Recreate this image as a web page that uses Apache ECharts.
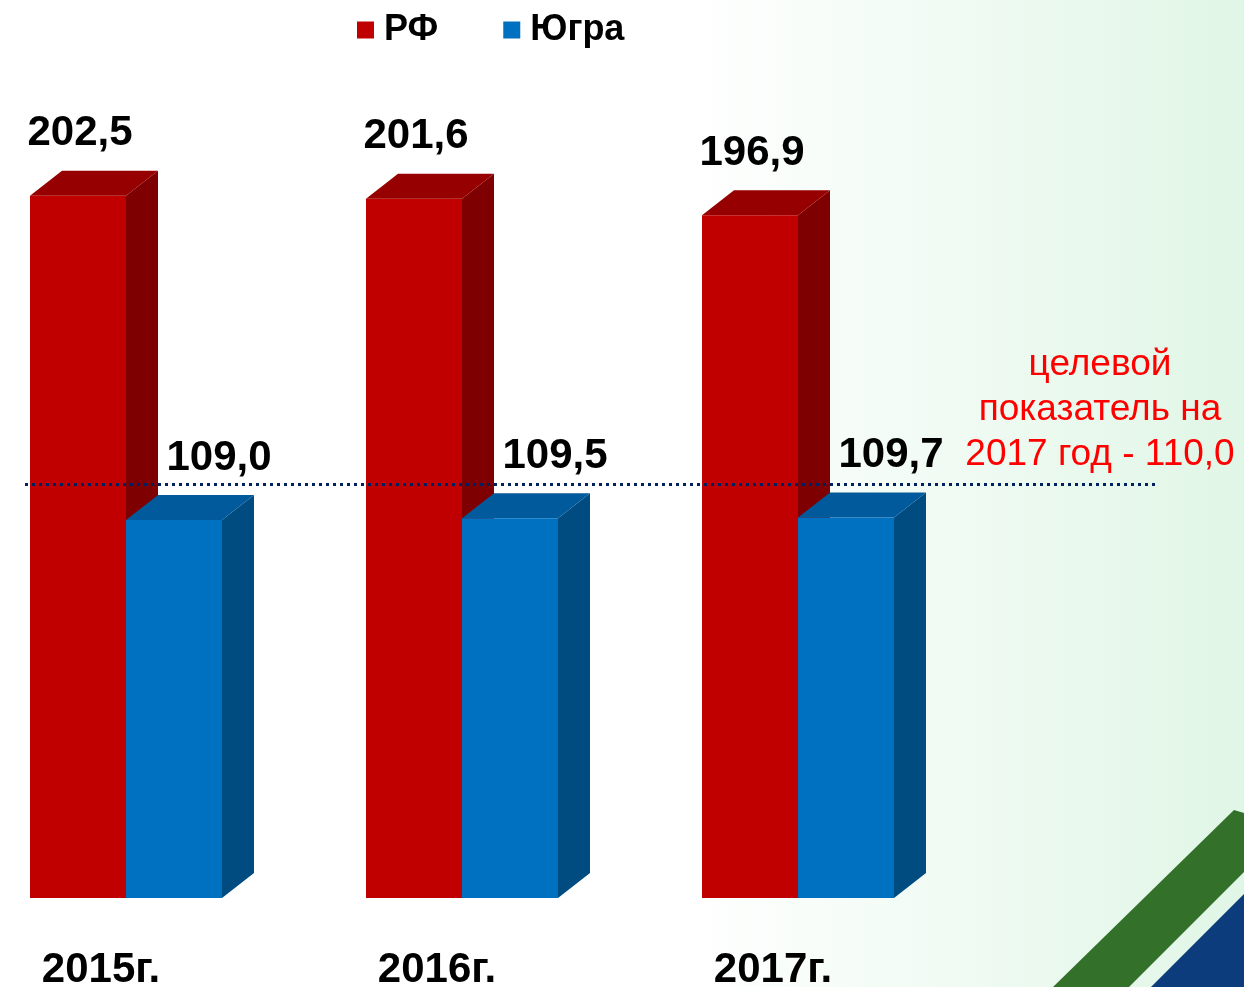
<!DOCTYPE html>
<html>
<head>
<meta charset="utf-8">
<script src="https://cdn.jsdelivr.net/npm/echarts@6/dist/echarts.min.js"></script>
<style>
  html, body { margin: 0; padding: 0; }
  #chart { width: 1244px; height: 987px; }
</style>
</head>
<body>
<div id="chart"></div>
<script>
const years = ['2015г.', '2016г.', '2017г.'];
const rfValues = [202.5, 201.6, 196.9];
const yugraValues = [109.0, 109.5, 109.7];
const targetValue = 110.0;
const targetText = ['целевой', 'показатель на', '2017 год - 110,0'];

const FONT = '"Liberation Sans", Arial, sans-serif';
const BAR_W = 96;
const DX = 32;
const DY = -25;

const fmt = v => v.toFixed(1).replace('.', ',');

// 3d bar: front face, top face, side face + value label
function bar3d(onLeft, colors, labelShift) {
  return function (params, api) {
    const idx = api.value(0);
    const v = api.value(1);
    const top = api.coord([idx, v]);
    const base = api.coord([idx, 0]);
    const x0 = onLeft ? top[0] - BAR_W : top[0];
    const x1 = x0 + BAR_W;
    const y0 = top[1];
    const y1 = base[1];
    return {
      type: 'group',
      children: [
        {
          type: 'polygon',
          shape: { points: [[x1, y0], [x1 + DX, y0 + DY], [x1 + DX, y1 + DY], [x1, y1]] },
          style: { fill: colors.side }
        },
        {
          type: 'polygon',
          shape: { points: [[x0, y0], [x0 + DX, y0 + DY], [x1 + DX, y0 + DY], [x1, y0]] },
          style: { fill: colors.top }
        },
        {
          type: 'rect',
          shape: { x: x0, y: y0, width: BAR_W, height: y1 - y0 },
          style: { fill: colors.front }
        },
        {
          type: 'text',
          x: x0 + BAR_W / 2 + labelShift,
          y: y0 + DY - 16,
          style: {
            text: fmt(v),
            fill: '#000',
            font: 'bold 42px ' + FONT,
            align: 'center',
            verticalAlign: 'bottom'
          }
        }
      ]
    };
  };
}

const chart = echarts.init(document.getElementById('chart'));

const option = {
  animation: false,
  backgroundColor: new echarts.graphic.LinearGradient(0, 0, 1, 0, [
    { offset: 0, color: '#ffffff' },
    { offset: 0.55, color: '#ffffff' },
    { offset: 1, color: '#e0f6e6' }
  ]),
  graphic: [
    {
      type: 'polygon',
      z: -1,
      shape: { points: [[1053, 987], [1234, 810], [1244, 813], [1244, 872], [1129, 987]] },
      style: { fill: '#33702a' }
    },
    {
      type: 'polygon',
      z: -1,
      shape: { points: [[1151, 987], [1244, 894], [1244, 987]] },
      style: { fill: '#0c3c7c' }
    },
    {
      type: 'text',
      x: 1100,
      y: 342,
      style: {
        text: targetText.join('\n'),
        fill: '#ff0000',
        font: '37px ' + FONT,
        lineHeight: 45,
        align: 'center'
      }
    }
  ],
  legend: {
    left: 352,
    top: 7,
    itemWidth: 17,
    itemHeight: 17,
    itemGap: 65,
    icon: 'rect',
    textStyle: {
      fontFamily: FONT, fontSize: 36, fontWeight: 'bold', color: '#000',
      padding: [0, 0, 0, 5]
    },
    data: ['РФ', 'Югра']
  },
  grid: { left: 126, right: 446, top: 31, bottom: 89, outerBoundsMode: 'none' },
  xAxis: {
    type: 'category',
    data: years,
    boundaryGap: false,
    axisLine: { show: false },
    axisTick: { show: false },
    axisLabel: {
      margin: 51,
      padding: [0, 50, 0, 0],
      fontFamily: FONT,
      fontSize: 42,
      fontWeight: 'bold',
      color: '#000'
    }
  },
  yAxis: {
    type: 'value',
    min: 0,
    max: 250,
    show: false,
    splitLine: { show: false }
  },
  series: [
    {
      name: 'РФ',
      type: 'custom',
      itemStyle: { color: '#c00000' },
      encode: { x: 0, y: 1 },
      data: rfValues.map((v, i) => [i, v]),
      renderItem: bar3d(true, { front: '#c00000', top: '#960000', side: '#7f0000' }, 2)
    },
    {
      name: 'Югра',
      type: 'custom',
      itemStyle: { color: '#0070c0' },
      encode: { x: 0, y: 1 },
      data: yugraValues.map((v, i) => [i, v]),
      renderItem: bar3d(false, { front: '#0070c0', top: '#005a9b', side: '#004b80' }, 45)
    },
    {
      name: 'target',
      type: 'custom',
      z: 5,
      encode: { x: 0, y: 1 },
      data: [[0, targetValue]],
      renderItem: function (params, api) {
        const p = api.coord([0, api.value(1)]);
        return {
          type: 'line',
          shape: { x1: 25, y1: p[1] - 32, x2: 1155, y2: p[1] - 32 },
          style: { stroke: '#002060', lineWidth: 3, lineDash: [3, 4] }
        };
      }
    }
  ]
};

chart.setOption(option);
window.addEventListener('resize', () => chart.resize());
</script>
</body>
</html>
